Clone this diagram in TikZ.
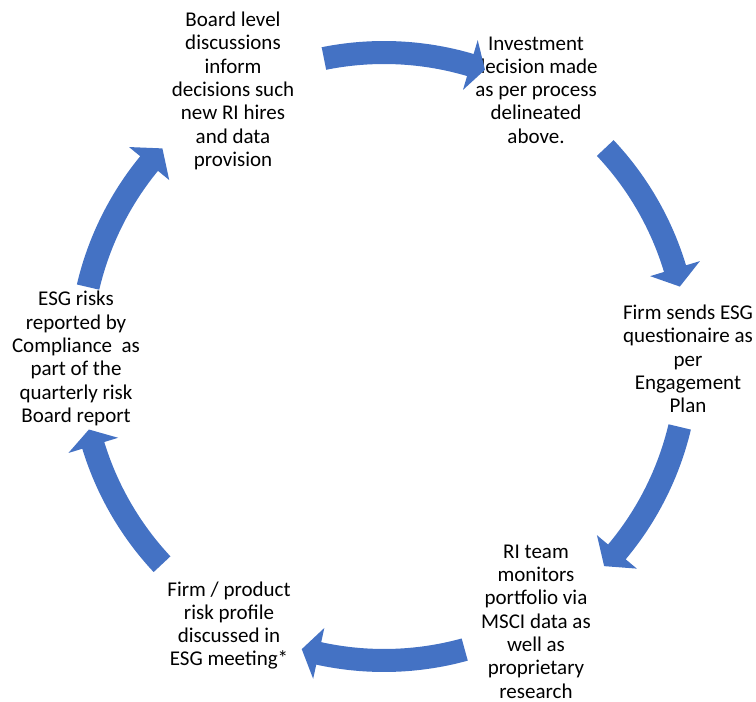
\documentclass[tikz,border=0pt]{standalone}
\usepackage{fontspec}
\setmainfont{Carlito}
\definecolor{arrowblue}{HTML}{4472C4}
\newcommand{\cycarrow}[3]{%
  \fill[arrowblue] (#1:315.5pt) arc[start angle=#1, end angle=#2, radius=315.5pt]
    -- (#2:330pt) -- (#3:304pt) -- (#2:278pt) -- (#2:292.5pt)
    arc[start angle=#2, end angle=#1, radius=292.5pt] -- cycle;}
\begin{document}
\begin{tikzpicture}[x=1pt,y=1pt,
  lbl/.style={align=center, inner sep=0pt, font=\fontsize{21}{23.3}\selectfont}]
\useasboundingbox (0,0) rectangle (756,702);
\node[lbl] (board) at (233,611) {Board level\\discussions\\inform\\decisions such\\new RI hires\\and data\\provision};
\node[lbl] (invest) at (536,612) {Investment\\decision made\\as per process\\delineated\\above.};
\node[lbl] (quest) at (688,343) {Firm sends ESG\\questionaire as\\per\\Engagement\\Plan};
\node[lbl] (monitor) at (536,80.5) {RI team\\monitors\\portfolio via\\MSCI data as\\well as\\proprietary\\research};
\node[lbl] (profile) at (229,76.5) {Firm / product\\risk profile\\discussed in\\ESG meeting*};
\node[lbl] (report) at (76,343.5) {ESG risks\\reported by\\Compliance\ \ as\\part of the\\quarterly risk\\Board report};
\begin{scope}[shift={(384,345.5)}]
\cycarrow{101.4}{73.5}{70.6}
\cycarrow{43.3}{16.8}{13.3}
\cycarrow{-13.4}{-40}{-43.6}
\cycarrow{-74.6}{-102.4}{-105.7}
\cycarrow{223.1}{197}{193.9}
\cycarrow{166.8}{140.6}{136.8}
\end{scope}
\end{tikzpicture}
\end{document}
